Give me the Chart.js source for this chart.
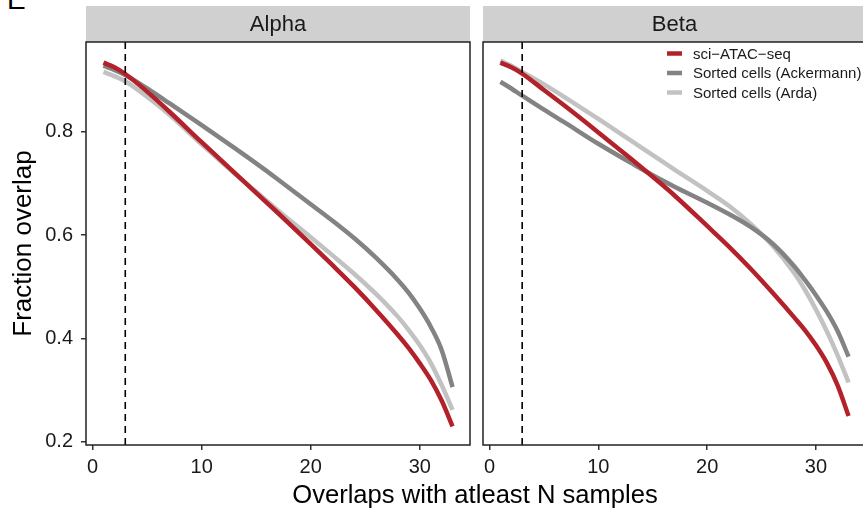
<!DOCTYPE html>
<html>
<head>
<meta charset="utf-8">
<script src="https://cdn.jsdelivr.net/npm/chart.js@4.4.1/dist/chart.umd.min.js"></script>
<style>
  html, body { margin: 0; padding: 0; background: #fff; overflow: hidden; }
  #wrap { position: relative; width: 863px; height: 510px; overflow: hidden; font-family: "Liberation Sans", Arial, sans-serif; color: #000; }
  .panel { position: absolute; top: 0; }
  #panel-alpha { left: 0; }
  #panel-beta { left: 475px; }
  #x-title { position: absolute; left: 175px; width: 600px; top: 479px; text-align: center; font-size: 25.6px; line-height: 30px; }
  #tag { position: absolute; left: 7px; top: -14px; font-size: 28px; line-height: 1; }
</style>
</head>
<body>
<div id="wrap">
  <div id="tag">E</div>
  <canvas id="panel-alpha" class="panel" width="475" height="510"></canvas>
  <canvas id="panel-beta" class="panel" width="400" height="510"></canvas>
  <div id="x-title">Overlaps with atleast N samples</div>
</div>
<script>
// --- Data ---
const X_POINTS = [1, 2, 3, 5, 7, 10, 13, 15, 17, 20, 22, 24, 26, 28, 29, 30, 31, 32, 33];
const X_TICKS = [0, 10, 20, 30];
const Y_TICKS = [0.2, 0.4, 0.6, 0.8];
const DASH_AT = 3;
const PANELS = ['Alpha', 'Beta'];
const SERIES_NAMES = ['sci\u2212ATAC\u2212seq', 'Sorted cells (Ackermann)', 'Sorted cells (Arda)'];
const SERIES_COLORS = ['#b3222a', '#838383', '#c2c2c2'];

const ALPHA_ATAC      = [0.934, 0.925, 0.912, 0.878, 0.840, 0.780, 0.721, 0.682, 0.643, 0.583, 0.542, 0.500, 0.455, 0.407, 0.381, 0.352, 0.320, 0.280, 0.230];
const ALPHA_ACKERMANN = [0.928, 0.920, 0.910, 0.884, 0.856, 0.813, 0.769, 0.739, 0.708, 0.660, 0.628, 0.594, 0.556, 0.513, 0.488, 0.458, 0.423, 0.378, 0.306];
const ALPHA_ARDA      = [0.916, 0.908, 0.898, 0.868, 0.834, 0.776, 0.720, 0.684, 0.648, 0.596, 0.561, 0.525, 0.486, 0.442, 0.416, 0.387, 0.353, 0.310, 0.262];

const BETA_ATAC       = [0.934, 0.925, 0.913, 0.881, 0.849, 0.799, 0.748, 0.713, 0.677, 0.618, 0.578, 0.535, 0.489, 0.441, 0.416, 0.387, 0.353, 0.309, 0.250];
const BETA_ACKERMANN  = [0.897, 0.884, 0.870, 0.843, 0.817, 0.777, 0.740, 0.716, 0.694, 0.663, 0.641, 0.616, 0.584, 0.540, 0.513, 0.484, 0.452, 0.414, 0.365];
const BETA_ARDA       = [0.938, 0.928, 0.916, 0.892, 0.866, 0.825, 0.783, 0.755, 0.727, 0.686, 0.657, 0.622, 0.580, 0.527, 0.494, 0.456, 0.414, 0.367, 0.315];

const FONT = '"Liberation Sans", Arial, sans-serif';

function toPoints(values) {
    return X_POINTS.map((x, i) => ({ x: x, y: values[i] }));
}

function makeDatasets(series) {
    return series.map((values, i) => ({
        label: SERIES_NAMES[i],
        data: toPoints(values),
        borderColor: SERIES_COLORS[i],
        backgroundColor: SERIES_COLORS[i],
        borderWidth: 4.5,
        pointRadius: 0,
        fill: false,
        cubicInterpolationMode: 'monotone'
    }));
}

// --- Panel decorations: strip, border, dashed line, legend ---
const panelPlugin = {
    id: 'panelDeco',
    beforeDraw(chart) {
        const { ctx, chartArea } = chart;
        const title = chart.options.plugins.panelDeco.title;
        ctx.save();
        ctx.fillStyle = '#d0d0d0';
        ctx.fillRect(chartArea.left, 6, chartArea.right - chartArea.left, chartArea.top - 6);
        ctx.fillStyle = '#1a1a1a';
        ctx.font = '22px ' + FONT;
        ctx.textAlign = 'center';
        ctx.textBaseline = 'middle';
        ctx.fillText(title, (chartArea.left + chartArea.right) / 2, 25);
        ctx.restore();
    },
    afterDatasetsDraw(chart) {
        const { ctx, chartArea, scales } = chart;
        const opts = chart.options.plugins.panelDeco;
        ctx.save();
        // vertical dashed line
        const xp = scales.x.getPixelForValue(DASH_AT);
        ctx.strokeStyle = '#000';
        ctx.lineWidth = 1.6;
        ctx.setLineDash([7, 5]);
        ctx.beginPath();
        ctx.moveTo(xp, chartArea.top);
        ctx.lineTo(xp, chartArea.bottom);
        ctx.stroke();
        ctx.setLineDash([]);
        // panel border
        ctx.strokeStyle = '#222';
        ctx.lineWidth = 1.5;
        ctx.strokeRect(chartArea.left, chartArea.top, chartArea.right - chartArea.left, chartArea.bottom - chartArea.top);
        // legend
        if (opts.legend) {
            ctx.font = '15px ' + FONT;
            ctx.textAlign = 'left';
            ctx.textBaseline = 'middle';
            chart.data.datasets.forEach((ds, i) => {
                const y = chartArea.top + 11.5 + i * 19.5;
                ctx.strokeStyle = ds.borderColor;
                ctx.lineWidth = 4.5;
                ctx.beginPath();
                ctx.moveTo(chartArea.left + 184, y);
                ctx.lineTo(chartArea.left + 199, y);
                ctx.stroke();
                ctx.fillStyle = '#1a1a1a';
                ctx.fillText(ds.label, chartArea.left + 210, y + 1);
            });
        }
        ctx.restore();
    }
};

function makeOptions(title, showY, padLeft, padRight, legend) {
    return {
        responsive: false,
        animation: false,
        layout: { padding: { top: 42, left: padLeft, right: padRight, bottom: 0 } },
        plugins: {
            legend: { display: false },
            tooltip: { enabled: false },
            panelDeco: { title: title, legend: legend }
        },
        scales: {
            x: {
                type: 'linear',
                min: -0.6,
                max: 34.6,
                afterBuildTicks: s => { s.ticks = X_TICKS.map(v => ({ value: v })); },
                afterFit: s => { s.height = 65; },
                border: { display: false },
                grid: { drawOnChartArea: false, drawTicks: true, tickLength: 5, tickColor: '#333', lineWidth: 1.5 },
                ticks: { color: '#1a1a1a', font: { size: 20, family: FONT }, padding: 5, autoSkip: false, maxRotation: 0 }
            },
            y: {
                type: 'linear',
                display: showY,
                min: 0.194,
                max: 0.974,
                afterBuildTicks: s => { s.ticks = Y_TICKS.map(v => ({ value: v })); },
                afterFit: s => { s.width = showY ? 86 : 0; },
                border: { display: false },
                grid: { drawOnChartArea: false, drawTicks: true, tickLength: 5, tickColor: '#333', lineWidth: 1.5 },
                ticks: {
                    color: '#1a1a1a',
                    font: { size: 20, family: FONT },
                    padding: 8,
                    callback: v => v.toFixed(1)
                },
                title: {
                    display: true,
                    text: 'Fraction overlap',
                    color: '#000',
                    font: { size: 26, family: FONT },
                    padding: { top: 8, bottom: 0 }
                }
            }
        }
    };
}

document.addEventListener('DOMContentLoaded', () => {
    new Chart(document.getElementById('panel-alpha'), {
        type: 'line',
        data: { datasets: makeDatasets([ALPHA_ATAC, ALPHA_ACKERMANN, ALPHA_ARDA]) },
        options: makeOptions(PANELS[0], true, 0, 5, false),
        plugins: [panelPlugin]
    });

    new Chart(document.getElementById('panel-beta'), {
        type: 'line',
        data: { datasets: makeDatasets([BETA_ATAC, BETA_ACKERMANN, BETA_ARDA]) },
        options: makeOptions(PANELS[1], false, 8, 9, true),
        plugins: [panelPlugin]
    });
});
</script>
</body>
</html>
